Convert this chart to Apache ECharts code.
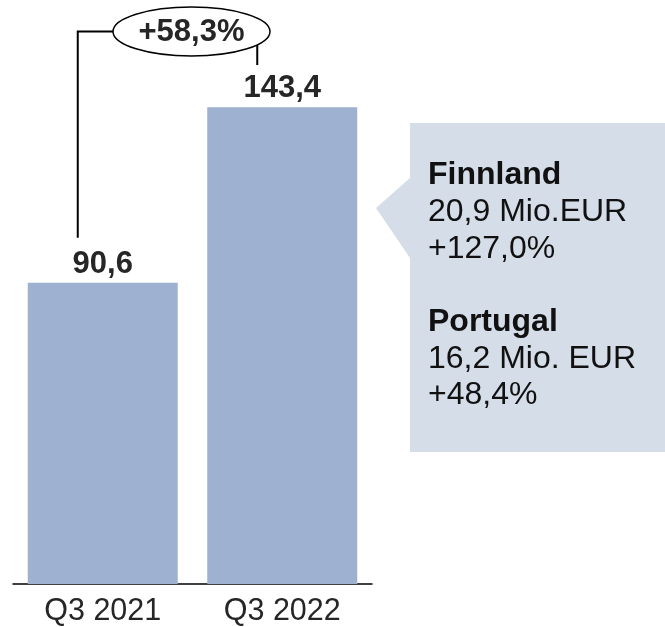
<!DOCTYPE html>
<html>
<head>
<meta charset="utf-8">
<script src="https://cdn.jsdelivr.net/npm/echarts@6/dist/echarts.min.js"></script>
<style>html,body{margin:0;padding:0;background:#fff}#c{width:665px;height:627px}</style>
</head>
<body>
<div id="c"></div>
<script>
const categories = ['Q3 2021', 'Q3 2022'];
const values = [90.6, 143.4];
const valueLabels = ['90,6', '143,4'];
const growthLabel = '+58,3%';
const calloutLines = [
  ['Finnland', '20,9 Mio.EUR', '+127,0%'],
  ['Portugal', '16,2 Mio. EUR', '+48,4%']
];

const FONT = '"Liberation Sans", Arial, sans-serif';
const TXT = '#262626';
const chart = echarts.init(document.getElementById('c'), null, {renderer: 'canvas'});
chart.setOption({
  animation: false,
  backgroundColor: '#fff',
  grid: {left: 13, right: 293, top: 52, bottom: 43},
  xAxis: {
    type: 'category', data: categories,
    axisLine: {lineStyle: {color: '#000', width: 1.5}},
    axisTick: {show: false},
    axisLabel: {color: TXT, fontFamily: FONT, fontSize: 30.5, margin: 12}
  },
  yAxis: {type: 'value', min: 0, max: 160, show: false, splitLine: {show: false}},
  series: [{
    type: 'bar', data: values, barWidth: 150,
    itemStyle: {color: '#9eb1d0'},
    label: {
      show: true, position: 'top', distance: 3,
      formatter: p => valueLabels[p.dataIndex],
      color: TXT, fontFamily: FONT, fontSize: 31, fontWeight: 'bold'
    }
  }]
});

const p1 = chart.convertToPixel({seriesIndex: 0}, [0, values[0]]);
const p2 = chart.convertToPixel({seriesIndex: 0}, [1, values[1]]);
const lx = p1[0] - 25, rx = p2[0] - 25;
const ey = 31.5, ecx = 191.5, erx = 78.5, ery = 24.5;
const dxr = rx - ecx;
const eyR = ey + ery * Math.sqrt(Math.max(0, 1 - (dxr / erx) ** 2));

const rich = '{b|' + calloutLines[0][0] + '}\n' + calloutLines[0][1] + '\n' + calloutLines[0][2] +
  '\n\n{b|' + calloutLines[1][0] + '}\n' + calloutLines[1][1] + '\n' + calloutLines[1][2];

chart.setOption({
  graphic: [
    {type: 'polyline', shape: {points: [[lx, p1[1] - 45], [lx, ey], [ecx - erx, ey]]},
     style: {stroke: '#000', lineWidth: 2, fill: null}},
    {type: 'ellipse', shape: {cx: ecx, cy: ey, rx: erx, ry: ery},
     style: {stroke: '#000', lineWidth: 1.5, fill: '#fff'}},
    {type: 'line', shape: {x1: rx, y1: eyR, x2: rx, y2: 65},
     style: {stroke: '#000', lineWidth: 2}},
    {type: 'text', x: ecx, y: ey + 1,
     style: {text: growthLabel, fill: TXT, font: 'bold 31px ' + FONT, textAlign: 'center', textVerticalAlign: 'middle'}},
    {type: 'polygon', shape: {points: [[410, 123], [665, 123], [665, 452], [410, 452], [410, 258], [376, 208], [410, 178]]},
     style: {fill: '#d5dde9'}},
    {type: 'text', x: 428, y: 157,
     style: {text: rich, fill: '#111', fontFamily: FONT, fontSize: 32, lineHeight: 36.7,
       textAlign: 'left', textVerticalAlign: 'top',
       rich: {b: {fontWeight: 'bold', fontFamily: FONT, fontSize: 32, lineHeight: 36.7, fill: '#111'}}}}
  ]
});
</script>
</body>
</html>
